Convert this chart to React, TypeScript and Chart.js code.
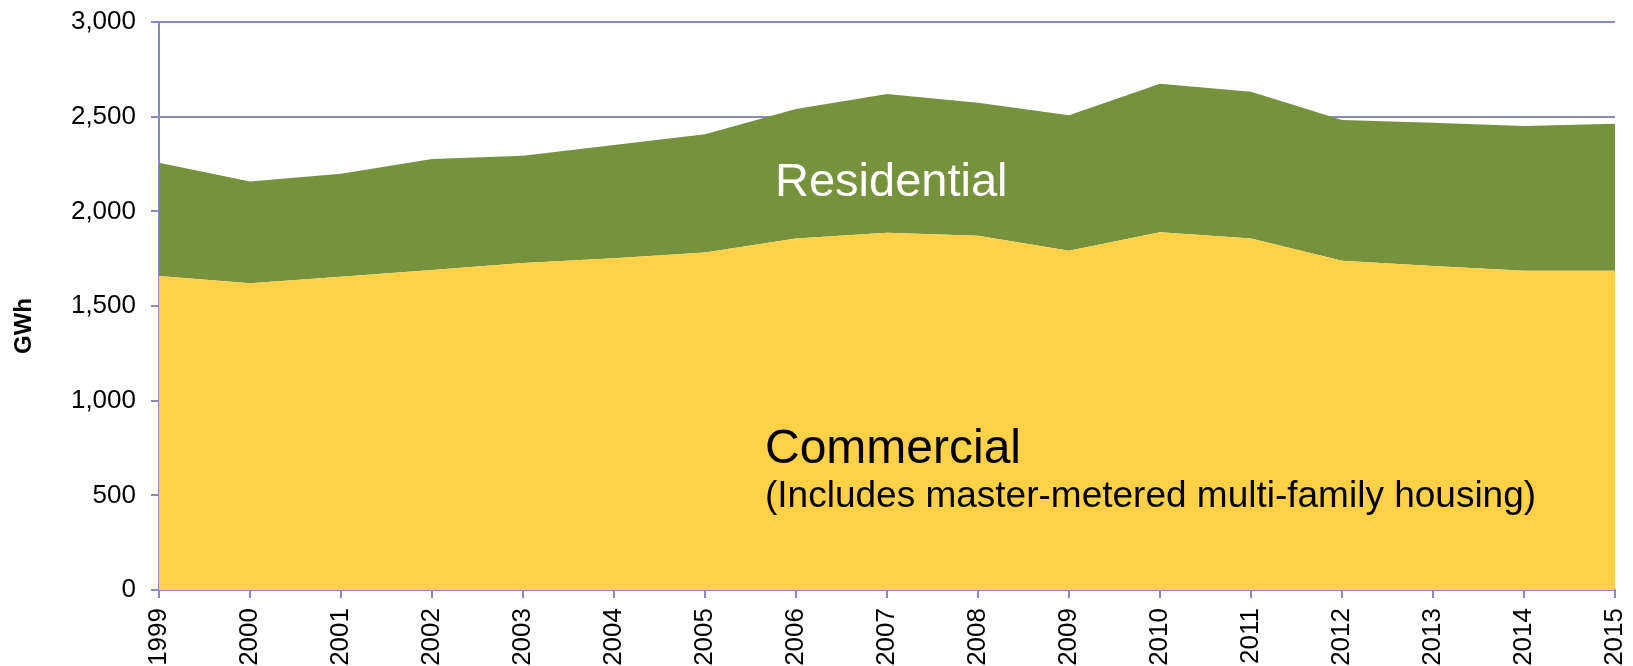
import React, { useEffect, useRef } from "react";
import { Chart, registerables } from "chart.js";

Chart.register(...registerables);

const years = ["1999", "2000", "2001", "2002", "2003", "2004", "2005", "2006", "2007", "2008", "2009", "2010", "2011", "2012", "2013", "2014", "2015"];
const commercial = [1658, 1620, 1655, 1690, 1727, 1752, 1782, 1857, 1887, 1871, 1792, 1889, 1857, 1739, 1711, 1686, 1686];
const residential = [599, 537, 544, 586, 567, 598, 625, 683, 733, 703, 715, 785, 775, 743, 757, 765, 777];
const yMin = 0;
const yMax = 3000;
const yStep = 500;

const FONT = '"Liberation Sans", Arial, sans-serif';
const GRID = "#8A8ABE";

const textPlugin = {
  id: "areaText",
  afterDatasetsDraw(chart: any) {
    const ctx = chart.ctx;
    ctx.save();
    ctx.textBaseline = "alphabetic";
    ctx.textAlign = "left";
    ctx.fillStyle = "#FFFFFF";
    ctx.font = `47px ${FONT}`;
    ctx.fillText("Residential", 775, 196);
    ctx.fillStyle = "#000000";
    ctx.font = `48px ${FONT}`;
    ctx.fillText("Commercial", 765, 463);
    ctx.font = `37px ${FONT}`;
    ctx.fillText("(Includes master-metered multi-family housing)", 765, 507);
    ctx.translate(24, 326);
    ctx.rotate(-Math.PI / 2);
    ctx.textAlign = "center";
    ctx.textBaseline = "middle";
    ctx.font = `bold 24px ${FONT}`;
    ctx.fillText("GWh", 0, 0);
    ctx.restore();
  },
};

export default function App() {
  const ref = useRef<HTMLCanvasElement>(null);
  useEffect(() => {
    if (!ref.current) return;
    const chart = new Chart(ref.current, {
      type: "line",
      data: {
        labels: years,
        datasets: [
          {
            label: "Commercial",
            data: commercial,
            backgroundColor: "#FFD147",
            borderWidth: 0,
            pointRadius: 0,
            fill: "origin",
            tension: 0,
          },
          {
            label: "Residential",
            data: residential,
            backgroundColor: "#76923C",
            borderWidth: 0,
            pointRadius: 0,
            fill: "-1",
            tension: 0,
          },
        ],
      },
      options: {
        responsive: false,
        devicePixelRatio: 1,
        animation: false,
        layout: { padding: { top: 22, right: 18, left: 0, bottom: 0 } },
        plugins: { legend: { display: false }, tooltip: { enabled: false } },
        scales: {
          x: {
            offset: false,
            grid: { drawOnChartArea: false, drawTicks: true, tickLength: 8, color: GRID, lineWidth: 2 },
            border: { color: GRID, width: 2 },
            ticks: {
              autoSkip: false,
              minRotation: 90,
              maxRotation: 90,
              padding: 10,
              color: "#000",
              font: { family: FONT, size: 26 },
            },
            afterFit: (s: any) => {
              s.height = 76;
              s.paddingLeft = 0;
              s.paddingRight = 0;
            },
          },
          y: {
            stacked: true,
            min: yMin,
            max: yMax,
            grid: { color: GRID, lineWidth: 2, tickLength: 8 },
            border: { color: GRID, width: 2 },
            ticks: {
              stepSize: yStep,
              padding: 15,
              color: "#000",
              font: { family: FONT, size: 26 },
              callback: (v: any) => Number(v).toLocaleString("en-US"),
            },
            afterFit: (s: any) => {
              s.width = 159;
              s.paddingTop = 0;
              s.paddingBottom = 0;
            },
          },
        },
      },
      plugins: [textPlugin],
    });
    return () => chart.destroy();
  }, []);
  return (
    <div style={{ position: "fixed", left: 0, top: 0, width: 1633, height: 666, background: "#fff" }}>
      <canvas ref={ref} width={1633} height={666} />
    </div>
  );
}
